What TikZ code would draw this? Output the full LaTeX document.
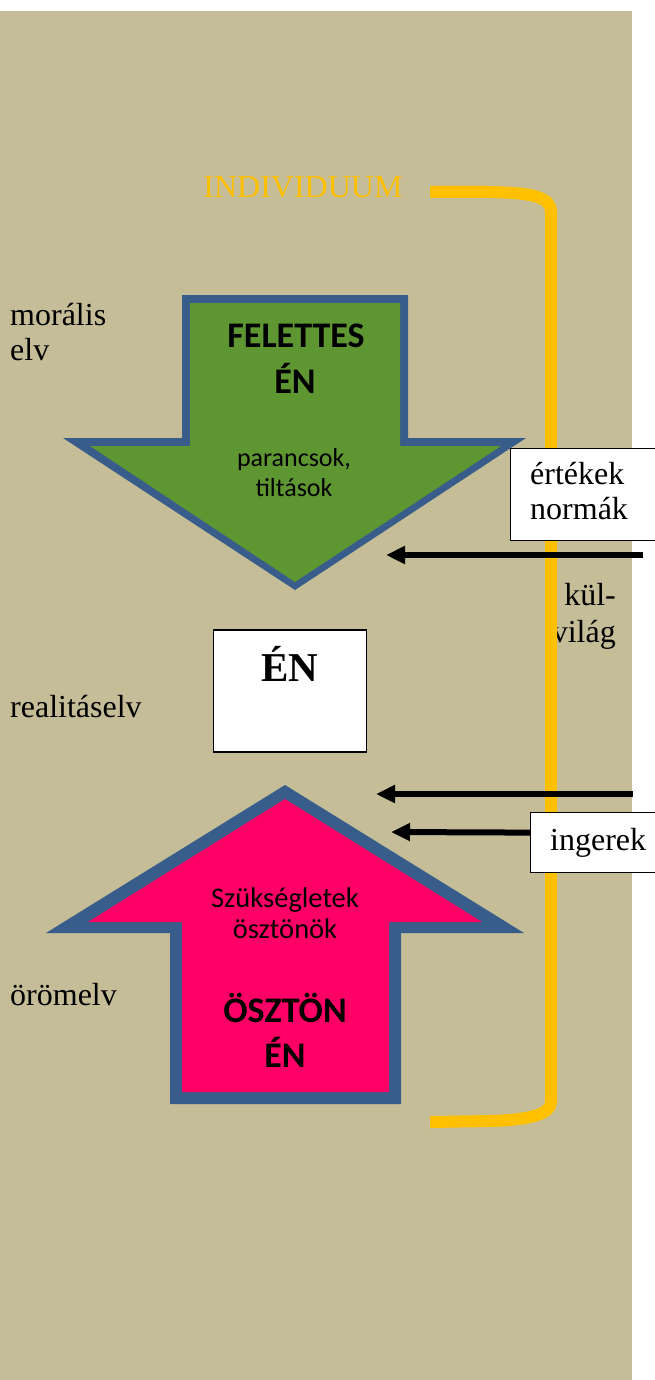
\documentclass[tikz,border=0pt]{standalone}
\usepackage{fontspec}
\setmainfont{Liberation Serif}
\newfontfamily\calfont{Carlito}
\usetikzlibrary{arrows.meta}
\definecolor{tanbg}{RGB}{196,189,151}
\definecolor{gold}{RGB}{255,192,0}
\definecolor{frameblue}{RGB}{56,93,138}
\definecolor{leafgreen}{RGB}{94,151,50}
\definecolor{hotpink}{RGB}{255,0,102}
\tikzset{
  lbl/.style={inner sep=0pt, font=\fontsize{32}{37}\selectfont},
  callbl/.style={inner sep=0pt, font=\calfont\fontsize{26}{31}\selectfont},
  calpink/.style={inner sep=0pt, font=\calfont\fontsize{28.5}{33}\selectfont},
  calbold/.style={inner sep=0pt, font=\calfont\bfseries\fontsize{36}{42}\selectfont},
  whitebox/.style={draw=black, fill=white, line width=1.2pt},
  inarrow/.style={line width=6pt, -{Triangle[length=19pt,width=17pt]}},
  bracket/.style={draw=gold, line width=12pt},
}
\begin{document}
\begin{tikzpicture}[x=1pt,y=-1pt]
\useasboundingbox (0,0) rectangle (655,1380);
\fill[tanbg] (0,11) rectangle (632,1380);

% kül-világ text (under the bracket)
\node[lbl, anchor=base east] (kul) at (616,605) {kül-};
\node[lbl, anchor=base east] (vilag) at (616,642) {világ};

% bracket INDIVIDUUM
\node[lbl, anchor=base, text=gold] (indiv) at (303,198) {INDIVIDUUM};
\coordinate (brtop) at (430,192);
\coordinate (brbot) at (430,1122);
\draw[bracket] (brtop) -- (490,192) .. controls (530,193) and (551,196) .. (551,212)
  -- (551,1102) .. controls (551,1114) and (530,1120) .. (490,1121) -- (brbot);

% green arrow (FELETTES ÉN)
\fill[frameblue] (182,295) -- (408,295) -- (408,438) -- (526,438) -- (295,590)
  -- (63,438) -- (182,438) -- cycle;
\fill[leafgreen] (190,303) -- (400,303) -- (400,446) -- (501,446) -- (295,582)
  -- (90,446) -- (190,446) -- cycle;
\node[calbold, anchor=base] (fel) at (296,347) {FELETTES};
\node[calbold, anchor=base] (felen) at (295,393) {ÉN};
\node[callbl, anchor=base] (par) at (294,466) {parancsok,};
\node[callbl, anchor=base] (tilt) at (294,496) {tiltások};

% pink arrow (ÖSZTÖN ÉN)
\fill[frameblue] (285,785) -- (524,933) -- (401,933) -- (401,1104) -- (170,1104)
  -- (170,933) -- (46,933) -- cycle;
\fill[hotpink] (285,799) -- (482,922) -- (389,922) -- (389,1092) -- (182,1092)
  -- (182,922) -- (88,922) -- cycle;
\node[calpink, anchor=base] (szuk) at (285,907) {Szükségletek};
\node[calpink, anchor=base] (oszt) at (285,938) {ösztönök};
\node[calbold, anchor=base] (osztonen) at (285,1022) {ÖSZTÖN};
\node[calbold, anchor=base] (osztonen2) at (285,1067) {ÉN};

% ÉN box
\node[whitebox, minimum width=153pt, minimum height=122pt, inner sep=0pt] (en) at (290,691) {};
\node[inner sep=0pt, font=\bfseries\fontsize{41}{47}\selectfont, anchor=base] (entext) at (290,681) {ÉN};

% left labels
\node[lbl, anchor=base west] (moral1) at (10,325) {morális};
\node[lbl, anchor=base west] (moral2) at (10,360) {elv};
\node[lbl, anchor=base west] (real) at (10,717) {realitáselv};
\node[lbl, anchor=base west] (orom) at (10,1005) {örömelv};

% right boxes
\node[whitebox, anchor=north west, minimum width=155pt, minimum height=92pt] (ertbox) at (510,448) {};
\node[lbl, anchor=base west] (ert) at (530,484) {értékek};
\node[lbl, anchor=base west] (norm) at (530,519) {normák};
\node[whitebox, anchor=north west, minimum width=135pt, minimum height=60pt] (ingbox) at (530,812) {};
\node[lbl, anchor=base west] (ing) at (550,850) {ingerek};

% incoming arrows
\coordinate (a1s) at (643,555);
\coordinate (a1e) at (386,555);
\coordinate (a2s) at (633,794);
\coordinate (a2e) at (376,794);
\coordinate (a3e) at (391,832);
\draw[inarrow] (a1s) -- (a1e);
\draw[inarrow] (a2s) -- (a2e);
\draw[inarrow] ([yshift=10pt]ingbox.west) -- (a3e);
\end{tikzpicture}
\end{document}
